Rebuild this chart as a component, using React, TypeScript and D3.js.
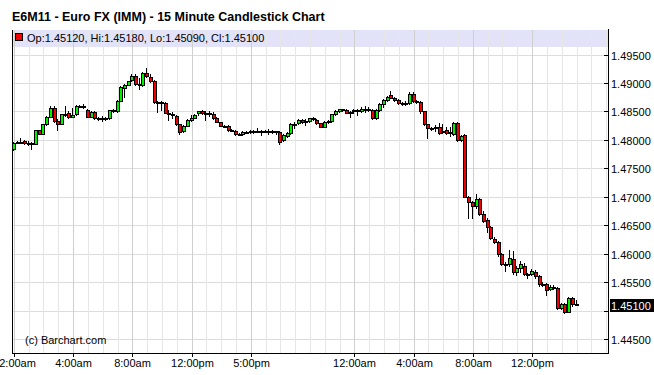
import React from "react";
import * as d3 from "d3";

const opens = [1.4784,1.4795,1.4796,1.4798,1.4795,1.4794,1.4793,1.4817,1.4811,1.4827,1.4841,1.4856,1.4834,1.4828,1.4845,1.4847,1.4841,1.4845,1.4859,1.4860,1.4853,1.4841,1.4849,1.4839,1.4838,1.4838,1.4838,1.4852,1.4851,1.4869,1.4891,1.4897,1.4905,1.4913,1.4897,1.4896,1.4918,1.4910,1.4903,1.4866,1.4866,1.4864,1.4848,1.4846,1.4842,1.4827,1.4816,1.4825,1.4835,1.4839,1.4847,1.4850,1.4847,1.4848,1.4845,1.4838,1.4831,1.4825,1.4825,1.4817,1.4816,1.4810,1.4810,1.4813,1.4814,1.4815,1.4814,1.4815,1.4814,1.4815,1.4814,1.4815,1.4813,1.4800,1.4806,1.4812,1.4827,1.4829,1.4835,1.4833,1.4833,1.4838,1.4835,1.4829,1.4823,1.4832,1.4833,1.4845,1.4851,1.4854,1.4852,1.4848,1.4850,1.4852,1.4851,1.4854,1.4855,1.4852,1.4838,1.4852,1.4863,1.4870,1.4878,1.4874,1.4870,1.4864,1.4865,1.4864,1.4880,1.4868,1.4867,1.4850,1.4827,1.4821,1.4820,1.4823,1.4814,1.4817,1.4812,1.4810,1.4829,1.4800,1.4809,1.4700,1.4690,1.4683,1.4696,1.4669,1.4659,1.4646,1.4626,1.4620,1.4599,1.4581,1.4581,1.4591,1.4568,1.4574,1.4579,1.4564,1.4564,1.4568,1.4560,1.4546,1.4546,1.4538,1.4542,1.4539,1.4505,1.4511,1.4498,1.4522,1.4512];
const highs = [1.4796,1.4798,1.4804,1.4800,1.4798,1.4796,1.4818,1.4818,1.4828,1.4842,1.4860,1.4859,1.4837,1.4846,1.4860,1.4850,1.4856,1.4861,1.4861,1.4863,1.4855,1.4851,1.4851,1.4840,1.4842,1.4841,1.4853,1.4854,1.4870,1.4895,1.4898,1.4904,1.4916,1.4915,1.4909,1.4919,1.4926,1.4916,1.4905,1.4868,1.4869,1.4866,1.4852,1.4849,1.4844,1.4828,1.4826,1.4837,1.4844,1.4845,1.4851,1.4852,1.4850,1.4851,1.4849,1.4840,1.4832,1.4826,1.4826,1.4819,1.4817,1.4812,1.4816,1.4816,1.4817,1.4818,1.4820,1.4818,1.4817,1.4819,1.4818,1.4816,1.4816,1.4810,1.4814,1.4829,1.4831,1.4837,1.4837,1.4836,1.4839,1.4840,1.4837,1.4830,1.4833,1.4835,1.4846,1.4852,1.4855,1.4855,1.4854,1.4851,1.4854,1.4855,1.4858,1.4860,1.4857,1.4854,1.4854,1.4864,1.4872,1.4877,1.4885,1.4876,1.4872,1.4866,1.4868,1.4884,1.4884,1.4870,1.4868,1.4851,1.4828,1.4823,1.4826,1.4830,1.4828,1.4823,1.4823,1.4831,1.4831,1.4808,1.4810,1.4701,1.4693,1.4705,1.4698,1.4675,1.4663,1.4648,1.4629,1.4622,1.4601,1.4585,1.4606,1.4605,1.4578,1.4587,1.4583,1.4566,1.4573,1.4571,1.4563,1.4550,1.4548,1.4545,1.4545,1.4541,1.4513,1.4513,1.4524,1.4524,1.4518];
const lows = [1.4782,1.4794,1.4795,1.4793,1.4791,1.4784,1.4792,1.4810,1.4810,1.4826,1.4840,1.4831,1.4817,1.4827,1.4842,1.4838,1.4840,1.4844,1.4858,1.4856,1.4840,1.4840,1.4837,1.4835,1.4833,1.4835,1.4837,1.4849,1.4849,1.4868,1.4875,1.4896,1.4903,1.4896,1.4889,1.4895,1.4910,1.4902,1.4865,1.4849,1.4852,1.4847,1.4835,1.4838,1.4826,1.4810,1.4814,1.4824,1.4834,1.4838,1.4844,1.4845,1.4835,1.4842,1.4837,1.4831,1.4824,1.4823,1.4816,1.4815,1.4809,1.4808,1.4809,1.4812,1.4812,1.4812,1.4813,1.4808,1.4813,1.4810,1.4812,1.4811,1.4793,1.4798,1.4805,1.4810,1.4820,1.4828,1.4830,1.4826,1.4831,1.4835,1.4828,1.4822,1.4822,1.4830,1.4831,1.4844,1.4849,1.4851,1.4847,1.4841,1.4848,1.4843,1.4849,1.4849,1.4851,1.4837,1.4837,1.4851,1.4857,1.4868,1.4873,1.4868,1.4863,1.4861,1.4862,1.4863,1.4867,1.4865,1.4848,1.4826,1.4803,1.4818,1.4816,1.4810,1.4812,1.4810,1.4806,1.4808,1.4798,1.4798,1.4699,1.4662,1.4662,1.4681,1.4668,1.4656,1.4638,1.4626,1.4619,1.4596,1.4580,1.4569,1.4578,1.4564,1.4562,1.4568,1.4562,1.4557,1.4563,1.4557,1.4543,1.4543,1.4527,1.4536,1.4538,1.4503,1.4503,1.4496,1.4497,1.4508,1.4509];
const closes = [1.4795,1.4796,1.4797,1.4795,1.4794,1.4793,1.4817,1.4811,1.4827,1.4841,1.4856,1.4833,1.4828,1.4845,1.4846,1.4840,1.4844,1.4859,1.4860,1.4858,1.4841,1.4849,1.4839,1.4838,1.4838,1.4839,1.4852,1.4853,1.4869,1.4893,1.4897,1.4903,1.4913,1.4899,1.4898,1.4918,1.4912,1.4903,1.4866,1.4867,1.4865,1.4848,1.4846,1.4844,1.4827,1.4814,1.4825,1.4835,1.4839,1.4844,1.4850,1.4847,1.4848,1.4847,1.4838,1.4832,1.4825,1.4824,1.4817,1.4816,1.4810,1.4811,1.4813,1.4814,1.4815,1.4814,1.4815,1.4814,1.4815,1.4814,1.4815,1.4813,1.4797,1.4809,1.4812,1.4827,1.4828,1.4835,1.4832,1.4834,1.4838,1.4837,1.4829,1.4823,1.4832,1.4833,1.4845,1.4851,1.4854,1.4853,1.4848,1.4849,1.4852,1.4851,1.4855,1.4853,1.4852,1.4838,1.4852,1.4863,1.4870,1.4876,1.4874,1.4870,1.4864,1.4865,1.4864,1.4880,1.4868,1.4867,1.4850,1.4827,1.4820,1.4820,1.4823,1.4812,1.4815,1.4812,1.4813,1.4829,1.4800,1.4806,1.4700,1.4690,1.4683,1.4696,1.4669,1.4657,1.4646,1.4627,1.4620,1.4599,1.4581,1.4582,1.4592,1.4567,1.4575,1.4581,1.4564,1.4563,1.4570,1.4560,1.4546,1.4545,1.4536,1.4542,1.4539,1.4505,1.4511,1.4498,1.4522,1.4512,1.4510];

const xTickIndex = [0, 16, 32, 48, 64, 92, 108, 124, 140];
const xTickLabels = ["12:00am", "4:00am", "8:00am", "12:00pm", "5:00pm", "12:00am", "4:00am", "8:00am", "12:00pm"];
const yTickValues = [1.445, 1.45, 1.455, 1.46, 1.465, 1.47, 1.475, 1.48, 1.485, 1.49, 1.495];
const slotCount = 161;

const title = "E6M11 - Euro FX (IMM) - 15 Minute Candlestick Chart";
const FONT = "'Liberation Sans', Arial, sans-serif";

export default function App() {
  const W = 654, H = 375;
  const L = 12, R = 608, T = 30, B = 353;
  const x = d3.scaleLinear().domain([-0.5, slotCount - 0.5]).range([L, R]);
  const y = d3.scaleLinear().domain([1.445, 1.495]).range([339, 54.5]);
  const fmt = d3.format(".5f");
  const n = closes.length;
  const last = n - 1;
  const lastY = Math.round(y(closes[last]));
  const gridIdx = d3.range(0, slotCount, 4);
  const green = "#00f000", red = "#f00000";

  return (
    <svg width={W} height={H} style={{ position: "absolute", left: 0, top: 0, background: "#fff" }} shapeRendering="crispEdges">
      <rect x={0} y={0} width={W} height={H} fill="#fff" />
      <text x={12} y={21} fontFamily={FONT} fontWeight="bold" fontSize={12.5} fill="#000">{title}</text>
      {/* legend band */}
      <rect x={L} y={T} width={R - L} height={16.5} fill="#e2e2f8" />
      {/* horizontal grid */}
      {yTickValues.map((v) => (
        <line key={"hg" + v} x1={L} x2={R} y1={Math.round(y(v)) + 0.5} y2={Math.round(y(v)) + 0.5} stroke="#dcdcdc" />
      ))}
      {/* vertical grid */}
      {gridIdx.map((i) => {
        const xx = Math.round(x(i)) + 0.5;
        const major = xTickIndex.includes(i);
        return <line key={"vg" + i} x1={xx} x2={xx} y1={T} y2={B} stroke={major ? "#cfcfcf" : "#e6e6e6"} />;
      })}
      {/* legend */}
      <rect x={15.5} y={33.5} width={7} height={7} fill="#f00000" stroke="#000" />
      <text x={27} y={41.5} fontFamily={FONT} fontSize={11} fill="#000">
        {`Op:${fmt(opens[last])}, Hi:${fmt(highs[last])}, Lo:${fmt(lows[last])}, Cl:${fmt(closes[last])}`}
      </text>
      {/* candles */}
      {closes.map((c, i) => {
        const o = opens[i];
        const px = Math.round(x(i));
        const yH = Math.round(y(highs[i]));
        const yL = Math.round(y(lows[i]));
        const top = Math.round(y(Math.max(o, c)));
        const bot = Math.round(y(Math.min(o, c)));
        const fill = c > o ? green : c < o ? red : "#000";
        return (
          <g key={"c" + i}>
            <line x1={px - 0.5} x2={px - 0.5} y1={yH} y2={yL + 1} stroke="#000" />
            {bot - top >= 2 ? (
              <rect x={px - 1.5} y={top + 0.5} width={3} height={bot - top} fill={fill} stroke="#000" />
            ) : (
              <rect x={px - 2} y={top} width={4} height={2} fill="#000" />
            )}
          </g>
        );
      })}
      {/* frame */}
      <line x1={L + 0.5} x2={L + 0.5} y1={T} y2={B + 1} stroke="#000" />
      <line x1={L} x2={R + 1} y1={B + 0.5} y2={B + 0.5} stroke="#000" />
      <line x1={R + 0.5} x2={R + 0.5} y1={T - 1} y2={B + 1} stroke="#000" />
      {/* y axis */}
      {yTickValues.map((v) => {
        const yy = Math.round(y(v)) + 0.5;
        const hidden = Math.abs(yy - lastY) < 9;
        return (
          <g key={"yt" + v}>
            <line x1={R - 4} x2={R} y1={yy} y2={yy} stroke="#000" />
            {!hidden && (
              <text x={R + 3} y={yy + 4} fontFamily={FONT} fontSize={11} fill="#000">{fmt(v)}</text>
            )}
          </g>
        );
      })}
      {/* last price marker */}
      <rect x={R + 2} y={lastY - 6} width={44} height={13} fill="#000" />
      <text x={R + 3} y={lastY + 4.5} fontFamily={FONT} fontSize={11} fill="#fff">{fmt(closes[last])}</text>
      {/* x axis */}
      {xTickIndex.map((i, k) => {
        const xx = Math.round(x(i)) + 0.5;
        return (
          <g key={"xt" + k}>
            <line x1={xx} x2={xx} y1={B} y2={B + 4} stroke="#000" />
            <text x={xx} y={367} textAnchor="middle" fontFamily={FONT} fontSize={11} fill="#000">{xTickLabels[k]}</text>
          </g>
        );
      })}
      <text x={25} y={344} fontFamily={FONT} fontSize={11} fill="#000">(c) Barchart.com</text>
    </svg>
  );
}
